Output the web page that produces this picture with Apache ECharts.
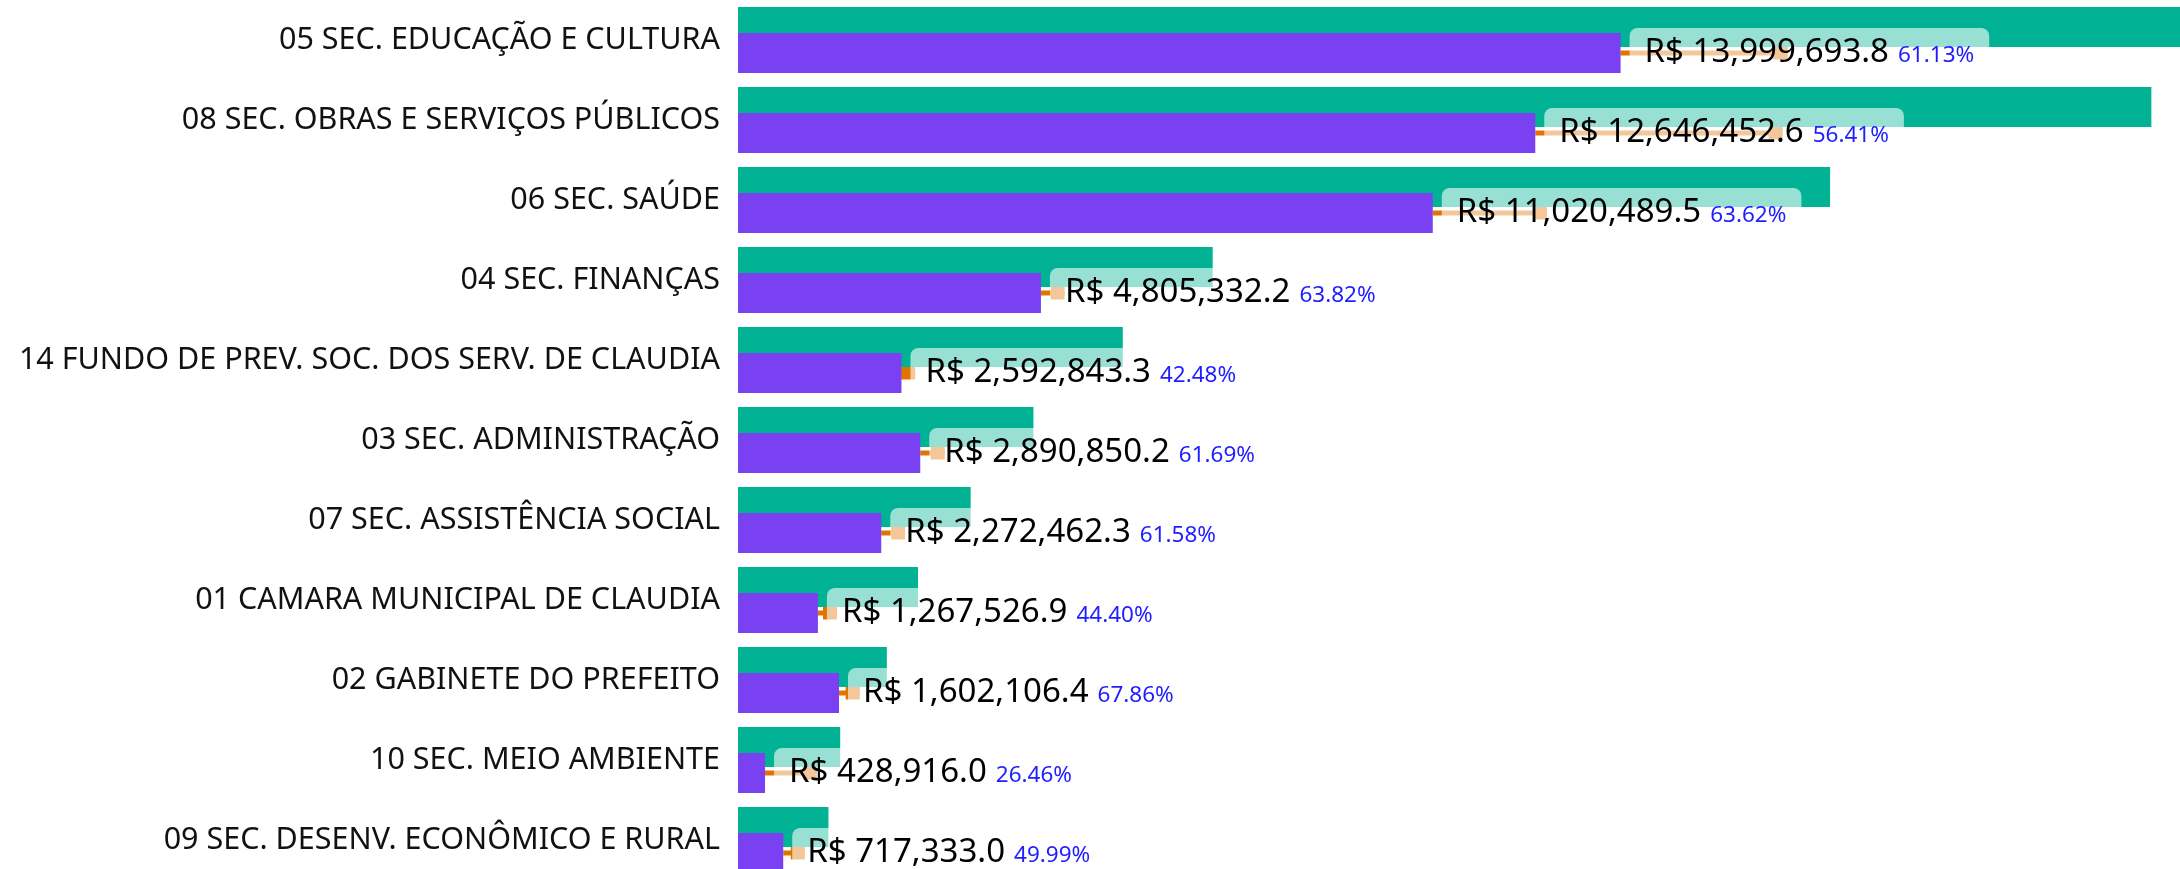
<!DOCTYPE html>
<html>
<head>
  <meta charset="utf-8">
  <title>Secretarias</title>
  <script src="https://cdn.jsdelivr.net/npm/echarts@6/dist/echarts.min.js"></script>
  <style>
    html, body { margin: 0; padding: 0; background: #fff; }
  </style>
</head>
<body>
  <div id="container" style="height: 869px; width: 2180px"></div>
  <script>
    // categories, top to bottom
    var categories = [
      '05 SEC. EDUCAÇÃO E CULTURA',
      '08 SEC. OBRAS E SERVIÇOS PÚBLICOS',
      '06 SEC. SAÚDE',
      '04 SEC. FINANÇAS',
      '14 FUNDO DE PREV. SOC. DOS SERV. DE CLAUDIA',
      '03 SEC. ADMINISTRAÇÃO',
      '07 SEC. ASSISTÊNCIA SOCIAL',
      '01 CAMARA MUNICIPAL DE CLAUDIA',
      '02 GABINETE DO PREFEITO',
      '10 SEC. MEIO AMBIENTE',
      '09 SEC. DESENV. ECONÔMICO E RURAL'
    ];
    // orçado (green)
    var orcado = [22901500, 22418800, 17322400, 7529500, 6103700, 4686100, 3690300, 2854800, 2360900, 1621000, 1435000];
    // executado (purple, labelled)
    var executado = [13999693.8, 12646452.6, 11020489.5, 4805332.2, 2592843.3, 2890850.2, 2272462.3, 1267526.9, 1602106.4, 428916.0, 717333.0];
    var percentual = ['61.13%', '56.41%', '63.62%', '63.82%', '42.48%', '61.69%', '61.58%', '44.40%', '67.86%', '26.46%', '49.99%'];
    // empenhado (orange marker)
    var empenhado = [16650000, 16570000, 12830000, 5180000, 2810000, 3280000, 2650000, 1570000, 1930000, 1250000, 1060000];

    var fmt = function (v) {
      return v.toLocaleString('en-US', { minimumFractionDigits: 1, maximumFractionDigits: 1 });
    };

    var chart = echarts.init(document.getElementById('container'));
    var option = {
      backgroundColor: '#fff',
      animation: false,
      textStyle: { fontFamily: 'Noto Sans' },
      grid: { left: 738, right: -8, top: 0, bottom: -11, outerBoundsMode: 'none' },
      xAxis: {
        type: 'value',
        min: 0,
        max: 23000000,
        show: false
      },
      yAxis: {
        type: 'category',
        inverse: true,
        data: categories,
        axisLine: { show: false },
        axisTick: { show: false },
        axisLabel: { fontSize: 30.5, color: '#111', margin: 18 }
      },
      series: [
        {
          name: 'Empenhado',
          type: 'custom',
          z: 1,
          encode: { x: [1, 2], y: 0 },
          data: executado.map(function (v, i) { return [i, v, empenhado[i]]; }),
          renderItem: function (params, api) {
            var i = api.value(0);
            var s = api.coord([api.value(1), i]);
            var e = api.coord([api.value(2), i]);
            var band = api.size([0, 1])[1];
            var cy = s[1] + band * 13 / 80;
            return {
              type: 'group',
              children: [
                { type: 'rect', shape: { x: s[0], y: cy - 2.5, width: e[0] - s[0], height: 5 }, style: { fill: '#E07400' } },
                { type: 'rect', shape: { x: e[0] - 14, y: cy - 6.5, width: 14, height: 13 }, style: { fill: '#E07400' } }
              ]
            };
          }
        },
        {
          name: 'Orçado',
          type: 'bar',
          data: orcado,
          barWidth: 40,
          barGap: '-35%',
          itemStyle: { color: '#01B294' }
        },
        {
          name: 'Executado',
          type: 'bar',
          data: executado,
          barWidth: 40,
          itemStyle: { color: '#7A41F2' },
          label: {
            show: true,
            position: 'right',
            distance: 9,
            padding: [7, 15, 7, 15],
            backgroundColor: 'rgba(255,255,255,0.6)',
            borderRadius: 8,
            formatter: function (p) {
              return '{v|R$ ' + fmt(p.value) + '}{p|' + percentual[p.dataIndex] + '}';
            },
            rich: {
              v: { fontSize: 33, color: '#000', fontFamily: 'Noto Sans', lineHeight: 36 },
              p: { fontSize: 22.5, color: '#1E1EFF', fontFamily: 'Noto Sans', lineHeight: 30, padding: [6, 0, 0, 9] }
            }
          }
        }
      ]
    };
    chart.setOption(option);
  </script>
</body>
</html>
